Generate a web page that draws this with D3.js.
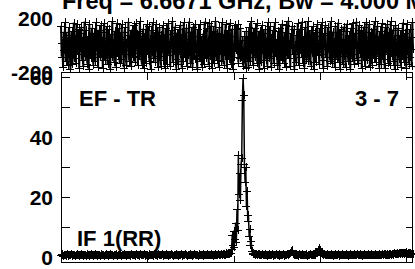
<!DOCTYPE html>
<html><head><meta charset="utf-8">
<script src="https://cdn.jsdelivr.net/npm/d3@7"></script>
<style>
html,body{margin:0;padding:0;background:#fff;}
svg{display:block;}
text{font-family:"Liberation Sans",Arial,Helvetica,sans-serif;font-weight:bold;fill:#000;}
</style></head>
<body>
<script>
// ---------- data ----------
const title = "Freq = 6.6671 GHz, Bw = 4.000 MHz";
const baselineLabel = "EF - TR";
const channelLabel = "3 - 7";
const ifLabel = "IF 1(RR)";
const ampTicksLabeled = [0, 20, 40, 60];
const ampTicksAll = [0, 10, 20, 30, 40, 50, 60];
const phaseTicks = [-200, 200];
const xTicks = [0, 128, 256, 384, 512];

const amplitude = [
.8,.6,.9,.5,.7,.6,.8,.4,.7,.9,.6,.5,.8,.7,.6,.9,.5,.7,.8,.6,
.7,.5,.6,.9,.8,.6,.4,.7,.8,.6,.9,.7,.5,.6,.8,.7,.6,.5,.9,.7,
.6,.8,.5,.7,.9,.6,.7,.5,.8,.6,.7,.9,.6,.5,.8,.7,.6,.8,.5,.7,
.9,.6,.7,.8,.5,.6,.9,.7,.6,.8,.5,.7,.6,.9,.8,.6,.7,.5,.6,.8,
.7,.9,.6,.5,.8,.7,.6,.9,.7,.5,.6,.8,.7,.6,1.0,.7,.5,.8,.6,.7,
.6,.8,.7,.5,.9,.6,.7,.8,.6,.5,.7,.9,.6,.8,.7,.5,.6,.9,.7,.6,
.8,.6,.7,.9,.5,.7,.8,.6,.7,.5,.9,.6,.8,.7,.6,.8,.5,.7,.9,.6,
.7,.8,.6,.5,.9,.7,.6,.8,.7,.6,.9,.5,.7,.8,.6,.7,.9,.6,.5,.8,
.7,.6,.8,.9,.6,.7,.5,.8,.6,.7,.9,.6,.8,.5,.7,.6,.8,.7,.9,.6,
.5,.7,.8,.6,.9,.7,.6,.5,.8,.7,.6,.9,.7,.8,.6,.5,.7,.9,.6,.8,
.7,.6,.8,.5,.7,.9,.6,.8,.7,.6,.5,.9,.7,.8,.6,.7,.9,.6,.8,.7,
.6,.8,.7,.9,.6,.5,.8,.7,.6,.9,.7,.8,.6,1.0,.7,.8,.6,.9,1.1,.8,
.9,.7,1.0,.8,1.2,.9,1.1,1.0,1.3,1.1,1.4,1.2,1.5,2.8,7.5,4.0,8.8,3.5,6.0,11.5,
5.0,16.0,9.0,34.0,21.0,28.0,19.0,31.0,33.0,52.5,59.7,54.0,31.0,25.0,30.0,17.0,22.0,12.0,14.0,7.0,
9.5,4.0,5.5,2.0,1.2,1.0,.9,1.1,.8,.9,.7,.8,1.0,.7,.9,.6,.8,.7,.9,.6,
.8,.7,.6,.9,.7,.8,.5,.7,.9,.6,.8,.7,.6,.9,.7,.5,.8,.6,.7,.9,
.6,.8,.7,.5,.9,.7,.6,.8,.7,.9,.6,.5,.8,.7,.6,.9,.8,.7,1.0,1.2,
1.4,1.9,2.3,1.6,1.1,.9,.8,.7,.9,.6,.8,.7,.5,.9,.7,.6,.8,.7,.9,.6,
.7,.8,.6,.9,.7,.5,.8,.7,.6,.9,.8,.6,.7,.9,.6,.8,.7,1.0,1.2,1.5,
1.8,2.2,2.7,3.1,2.4,1.7,1.2,.9,.8,.7,.9,.6,.8,.7,.6,.9,.7,.8,.6,.7,
.9,.6,.8,.7,.5,.8,.9,.6,.7,.8,.6,.9,.7,.5,.8,.7,.6,.9,.8,.7,
.6,.8,.7,.9,.6,.7,.5,.8,.7,.9,.6,.8,.7,.6,.9,.7,.8,.6,.7,.9,
.8,.6,.7,.9,.6,.8,.7,.5,.8,.6,.9,.7,.6,.8,.7,.9,.6,.8,.7,.6,
.9,.7,.8,.6,.7,.9,.6,.8,.7,.6,.8,.9,.7,.6,.8,.7,.9,.6,.8,1.0,
.7,.9,.8,.6,1.0,.8,.7,.9,1.1,.8,.7,1.0,.9,.8,1.2,.9,1.0,1.1,.9,1.3,
1.0,1.2,1.4,1.1,1.3,1.0,1.5,1.2,1.1,1.4,1.2,1.6,1.3,1.1,1.5,1.2,1.4,1.0,1.3,1.1,
1.2,.9,1.1
];

const phase = [
143,-87,12,-165,98,-34,171,-120,56,-9,-151,77,130,-62,-178,25,104,-141,-18,166,
-95,48,-132,159,3,-70,118,-173,86,-47,135,-109,61,-156,22,174,-83,109,-28,-138,
67,-176,154,-11,-99,41,127,-64,-147,90,15,-121,168,-39,73,-162,112,-5,-88,149,
-57,31,-170,95,160,-113,8,-75,139,-144,52,117,-26,-179,83,-91,176,-52,20,-128,
106,-160,38,164,-82,-16,125,-137,60,-105,152,-44,1,-167,94,133,-69,-150,47,-3,
172,-116,71,-35,-158,114,27,-92,146,-124,-60,163,80,-13,-148,102,-78,178,35,-101,
-146,59,121,-171,-23,88,-134,155,9,-66,140,-118,44,-177,111,-50,170,-97,68,-8,
-129,157,-41,99,-164,17,131,-85,-154,76,-30,147,-110,53,-172,124,-6,-140,84,161,
-72,29,-159,108,-19,178,-126,65,-48,137,-103,-175,92,4,-142,119,-65,150,-33,-168,
79,-115,167,-2,-89,45,129,-157,14,-76,174,-43,-133,100,58,-166,136,-21,-107,153,
-54,6,-180,115,-93,69,156,-122,33,-161,-37,85,-143,173,-15,-98,126,-68,40,-152,
163,-81,-12,144,-174,57,101,-136,-58,179,19,-112,91,-27,-163,132,-46,74,-119,169,
-4,-145,81,-73,158,-25,-169,110,37,-104,165,-56,-139,63,122,-180,11,-90,145,-36,
118,-47,152,-130,-14,-96,127,-88,35,-91,-153,-97,64,-99,-171,105,-90,60,-163,134,
21,-118,175,-60,93,-149,39,128,-87,-13,162,-134,70,-44,-176,107,-1,-125,148,-62,
86,-171,26,119,-108,54,-153,171,-29,-94,139,5,-160,78,-52,113,-137,167,-20,-83,
42,-147,104,-7,-179,128,61,-114,157,-40,-130,13,96,-165,149,-74,-24,180,-99,35,
-156,89,-18,142,-68,116,-176,3,-123,75,-45,160,-89,-148,121,28,-61,173,-11,-135,
66,-167,134,-31,-100,50,177,-117,82,-14,-152,108,-57,141,16,-179,97,-42,-128,64,
155,-77,-3,-144,123,-63,36,168,-110,-172,87,-26,146,-91,11,-159,130,-49,72,-115,
178,-8,-137,99,-70,21,-165,142,55,-102,-33,166,-124,80,-178,115,-58,7,-143,137,
-80,43,-162,102,158,-46,-118,71,-15,-175,127,33,-95,160,-66,-141,90,-22,174,-108,
18,-133,148,-59,-4,113,-170,82,-87,136,-38,-155,59,171,-112,26,-74,152,-163,96,
-29,-145,121,48,-96,175,-51,-127,10,143,-80,66,-168,103,-17,-138,162,39,-106,84,
-173,131,-9,-65,156,-131,24,95,-151,176,-35,-84,114,-117,47,-177,145,-54,2,-149,
127,-101,73,-21,-160,109,-71,166,-43,-126,86,31,-170,152,-67,12,-139,119,-91,57,
-158,170,-30
];

// ---------- layout ----------
const W = 415, H = 269;
const left = 61, right = 413;
const phTop = 18, phBot = 72;
const amTop = 72, amBot = 262;

const svg = d3.select("body").append("svg").attr("width", W).attr("height", H);

const nChan = Math.max(amplitude.length, phase.length);
const x = d3.scaleLinear().domain([0, nChan - 1]).range([left, right]);
const yPh = d3.scaleLinear().domain([-200, 200]).range([phBot, phTop]);
const yAm = d3.scaleLinear().domain([0, 60]).range([257, 77]);

const plus = "M-4,0H4M0,-4V4";

// phase panel
const phData = phase.map((v, i) => [i, v]);
svg.append("path")
  .attr("d", d3.line().x(d => x(d[0])).y(d => yPh(d[1]))(phData))
  .attr("fill", "none").attr("stroke", "#000").attr("stroke-width", 2);
svg.append("g").attr("shape-rendering", "crispEdges").selectAll("path").data(phData).join("path")
  .attr("transform", d => `translate(${Math.round(x(d[0]))},${Math.round(yPh(d[1]))})`)
  .attr("d", plus).attr("stroke", "#000").attr("stroke-width", 1).attr("fill", "none");

// amplitude panel frame
svg.append("rect").attr("shape-rendering", "crispEdges")
  .attr("x", left + 0.5).attr("y", amTop + 0.5)
  .attr("width", right - left - 1).attr("height", amBot - amTop)
  .attr("fill", "none").attr("stroke", "#000").attr("stroke-width", 1);

// axes ticks
const gL = svg.append("g").attr("transform", `translate(${left + 0.5},0)`)
  .call(d3.axisRight(yAm).tickValues(ampTicksAll).tickSize(8).tickFormat(""));
const gR = svg.append("g").attr("transform", `translate(${right - 0.5},0)`)
  .call(d3.axisLeft(yAm).tickValues(ampTicksAll).tickSize(7).tickFormat(""));
const gT = svg.append("g").attr("transform", `translate(0,${amTop + 0.5})`)
  .call(d3.axisBottom(x).tickValues(xTicks).tickSize(7).tickFormat(""));
const gB = svg.append("g").attr("transform", `translate(0,${amBot + 0.5})`)
  .call(d3.axisTop(x).tickValues(xTicks).tickSize(7).tickFormat(""));
[gL, gR, gT, gB].forEach(g => {
  g.select(".domain").remove();
  g.attr("shape-rendering", "crispEdges").selectAll("line").attr("stroke", "#000");
});

// amplitude data
const amData = amplitude.map((v, i) => [i, v]);
svg.append("path")
  .attr("d", d3.line().x(d => x(d[0])).y(d => yAm(d[1]))(amData))
  .attr("fill", "none").attr("stroke", "#000").attr("stroke-width", 1.5);
svg.append("g").attr("shape-rendering", "crispEdges").selectAll("path").data(amData).join("path")
  .attr("transform", d => `translate(${Math.round(x(d[0]))},${Math.round(yAm(d[1]))})`)
  .attr("d", plus).attr("stroke", "#000").attr("stroke-width", 1).attr("fill", "none");

// tick labels
const fs = 21;
svg.append("g").selectAll("text").data(ampTicksLabeled).join("text")
  .attr("x", 53).attr("y", d => yAm(d)).attr("dy", "0.36em")
  .attr("text-anchor", "end").attr("font-size", fs).text(d => d);
svg.append("g").selectAll("text").data(phaseTicks).join("text")
  .attr("x", 53).attr("y", d => yPh(d)).attr("dy", "0.36em")
  .attr("text-anchor", "end").attr("font-size", fs).text(d => d);

// labels
svg.append("text").attr("x", 62).attr("y", 9).attr("font-size", 23.5).text(title);
svg.append("text").attr("x", 79).attr("y", 106).attr("font-size", 22).text(baselineLabel);
svg.append("text").attr("x", 399).attr("y", 106).attr("text-anchor", "end").attr("font-size", 22).text(channelLabel);
svg.append("text").attr("x", 77).attr("y", 246).attr("font-size", 22).text(ifLabel);
</script>
</body></html>
